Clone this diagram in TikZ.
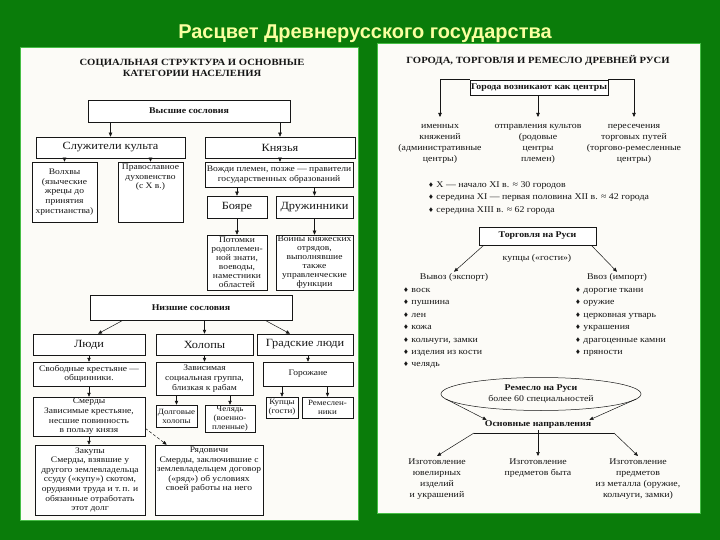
\documentclass[tikz,border=0pt]{standalone}
\usepackage{fontspec}
\setmainfont[FakeStretch=1.12]{Liberation Serif}
\newfontfamily\titlefont{Liberation Sans}
\newfontfamily\symfont{DejaVu Sans}
\usetikzlibrary{arrows.meta,shapes.geometric,calc}
\definecolor{bggreen}{RGB}{10,124,10}
\definecolor{ttl}{RGB}{250,255,160}
\definecolor{ink}{RGB}{22,22,22}
\definecolor{paper}{RGB}{252,251,247}
\definecolor{edge}{RGB}{70,190,70}
\newcommand{\dia}{{\symfont\fontsize{6.5}{6.5}\selectfont ♦}\ }
\newcommand{\fs}{\fontsize{8.5}{9.6}\selectfont}
\newcommand{\fss}{\fontsize{8.5}{9}\selectfont}
\newcommand{\fsm}{\fontsize{8}{9}\selectfont}
\newcommand{\fr}{\fontsize{8.8}{11}\selectfont}
\newcommand{\fb}{\fontsize{11}{12}\selectfont}
\newcommand{\fh}{\bfseries\fontsize{8.8}{10}\selectfont}
\newcommand{\fT}{\bfseries\fontsize{9.5}{11.5}\selectfont}
\tikzset{
  bx/.style={draw=ink, line width=0.5pt, fill=white, align=center, inner sep=1pt, text=ink, font=\fs},
  txt/.style={inner sep=1pt, align=center, text=ink, font=\fr},
  li/.style={inner sep=0pt, anchor=base west, text=ink, font=\fr},
  arr/.style={draw=ink, line width=0.5pt, -{Triangle[length=4pt,width=3.4pt]}},
  ln/.style={draw=ink, line width=0.5pt},
  panel/.style={fill=paper, draw=edge, line width=0.8pt}
}
\begin{document}
\begin{tikzpicture}[x=1pt,y=-1pt]
\useasboundingbox (0,0) rectangle (720,540);
\fill[bggreen] (0,0) rectangle (720,540);
\node[font=\titlefont\bfseries\fontsize{20}{23}\selectfont, text=ttl] (title) at (365,34) {Расцвет Древнерусского государства};
\path[panel] (20,47) rectangle (358,520);
\path[panel] (377,43) rectangle (700,513);

% ---------------- left panel ----------------
\node[font=\fT, align=center, text=ink] (ltitle) at (192,68) {СОЦИАЛЬНАЯ СТРУКТУРА И ОСНОВНЫЕ\\КАТЕГОРИИ НАСЕЛЕНИЯ};
\node[bx,minimum width=202pt,minimum height=22pt,font=\fh] (vys) at (189,111) {Высшие сословия};
\node[bx,minimum width=149pt,minimum height=21pt,font=\fb] (sluz) at (110.5,147.5) {Служители культа};
\node[bx,minimum width=150pt,minimum height=21pt,font=\fb] (knyaz) at (280,147.5) {Князья};
\node[bx,minimum width=65pt,minimum height=60pt] (volkh) at (64.5,192) {Волхвы\\(языческие\\жрецы до\\принятия\\христианства)};
\node[bx,minimum width=65pt,minimum height=60pt] (prav) at (150.5,192) {\parbox[c][56pt][t]{62pt}{\centering Православное\\духовенство\\(с X в.)}};
\node[bx,minimum width=148pt,minimum height=25pt] (vozhdi) at (279,174.5) {Вожди племен, позже — правители\\государственных образований};
\node[bx,minimum width=60pt,minimum height=22pt,font=\fb] (boyare) at (237,207) {Бояре};
\node[bx,minimum width=77pt,minimum height=22pt,font=\fb] (druzh) at (314.5,207) {Дружинники};
\node[bx,minimum width=60pt,minimum height=55pt,font=\fss] (potomki) at (237,262.5) {Потомки\\родоплемен-\\ной знати,\\воеводы,\\наместники\\областей};
\node[bx,minimum width=77pt,minimum height=55pt,font=\fss] (voiny) at (314.5,262.5) {Воины княжеских\\отрядов,\\выполнявшие\\также\\управленческие\\функции};
\node[bx,minimum width=202pt,minimum height=25pt,font=\fh] (nizh) at (191,307.5) {Низшие сословия};
\node[bx,minimum width=112pt,minimum height=21pt,font=\fb] (lyudi) at (89,344.5) {Люди};
\node[bx,minimum width=97pt,minimum height=21pt,font=\fb] (khol) at (204.5,344.5) {Холопы};
\node[bx,minimum width=96pt,minimum height=21pt,font=\fb] (grad) at (305,344.5) {Градские люди};
\node[bx,minimum width=112pt,minimum height=24pt] (svob) at (89,374) {Свободные крестьяне —\\общинники.};
\node[bx,minimum width=97pt,minimum height=33pt] (zavis) at (204.5,378.5) {Зависимая\\социальная группа,\\близкая к рабам};
\node[bx,minimum width=90pt,minimum height=24pt] (gorozh) at (308,374) {Горожане};
\node[bx,minimum width=112pt,minimum height=39pt] (smerdy) at (89,416.5) {Смерды\\Зависимые крестьяне,\\несшие повинность\\в пользу князя};
\node[bx,minimum width=41pt,minimum height=22pt,font=\fsm] (dolg) at (176.5,416) {Долговые\\холопы};
\node[bx,minimum width=50pt,minimum height=27pt,font=\fsm] (chel) at (230,418.5) {Челядь\\(военно-\\пленные)};
\node[bx,minimum width=32pt,minimum height=21pt,font=\fsm] (kup) at (282,407.5) {Купцы\\(гости)};
\node[bx,minimum width=51pt,minimum height=21pt,font=\fsm] (rem) at (327.5,407.5) {Ремеслен-\\ники};
\node[bx,minimum width=110pt,minimum height=70pt] (zakupy) at (90,480) {Закупы\\Смерды, взявшие у\\другого землевладельца\\ссуду («купу») скотом,\\орудиями труда и т.\,п. и\\обязанные отработать\\этот долг};
\node[bx,minimum width=108pt,minimum height=70pt] (ryad) at (209,480) {\parbox[c][66pt][t]{106pt}{\centering Рядовичи\\Смерды, заключившие с\\землевладельцем договор\\(«ряд») об условиях\\своей работы на него}};

\draw[arr] (vys.south -| sluz.north) -- (sluz.north);
\draw[arr] (vys.south -| knyaz.north) -- (knyaz.north);
\draw[arr] (sluz.south -| volkh.north) -- (volkh.north);
\draw[arr] (sluz.south -| prav.north) -- (prav.north);
\draw[arr] (knyaz.south) -- (knyaz.south |- vozhdi.north);
\draw[arr] (vozhdi.south -| boyare.north) -- (boyare.north);
\draw[arr] (vozhdi.south -| druzh.north) -- (druzh.north);
\draw[arr] (boyare.south) -- (potomki.north);
\draw[arr] (druzh.south) -- (voiny.north);
\draw[arr] ([xshift=-68pt]nizh.south) -- ([xshift=9pt]lyudi.north);
\draw[arr] (nizh.south -| khol.north) -- (khol.north);
\draw[arr] ([xshift=74pt]nizh.south) -- ([xshift=-15pt]grad.north);
\draw[arr] (lyudi.south) -- (svob.north);
\draw[arr] (svob.south) -- (smerdy.north);
\draw[arr] (smerdy.south) -- (smerdy.south |- zakupy.north);
\draw[arr, densely dashed] ([yshift=8pt]smerdy.south east) -- ([xshift=12pt]ryad.north west);
\draw[arr] (khol.south) -- (zavis.north);
\draw[arr] (zavis.south -| dolg.north) -- (dolg.north);
\draw[arr] (zavis.south -| chel.north) -- (chel.north);
\draw[arr] (grad.south -| gorozh.north) -- (gorozh.north);
\draw[arr] (gorozh.south -| kup.north) -- (kup.north);
\draw[arr] (gorozh.south -| rem.north) -- (rem.north);

% ---------------- right panel ----------------
\node[font=\fT, text=ink] (rtitle) at (538,60) {ГОРОДА, ТОРГОВЛЯ И РЕМЕСЛО ДРЕВНЕЙ РУСИ};
\node[bx,minimum width=130pt,minimum height=15pt,font=\fh] (gorbox) at (539,87.5) {Города возникают как центры};
\node[txt,anchor=north,inner ysep=7pt] (c1) at (440,117) {именных\\княжений\\(административные\\центры)};
\node[txt,anchor=north,inner ysep=7pt] (c2) at (538,117) {отправления культов\\(родовые\\центры\\племен)};
\node[txt,anchor=north,inner ysep=7pt] (c3) at (634,117) {пересечения\\торговых путей\\(торгово-ремесленные\\центры)};
\draw[arr] (gorbox.north west) -- (gorbox.north west -| c1.north) -- (c1.north);
\draw[arr] (gorbox.north east) -- (gorbox.north east -| c3.north) -- (c3.north);
\draw[arr] (gorbox.south -| c2.north) -- (c2.north);

\node[li] (b1) at (428,188) {\dia X — начало XI в. ≈ 30 городов};
\node[li] (b2) at (428,200) {\dia середина XI — первая половина XII в. ≈ 42 города};
\node[li] (b3) at (428,212) {\dia середина XIII в. ≈ 62 города};

\node[bx,minimum width=117pt,minimum height=18pt,font=\fh] (tor) at (537.5,236) {Торговля на Руси};
\node[txt] (kupcy) at (537,258) {купцы («гости»)};
\node[txt] (exp) at (454,277) {Вывоз (экспорт)};
\node[txt] (imp) at (617,277) {Ввоз (импорт)};
\draw[arr] ([xshift=5pt]tor.south west) -- (exp.north);
\draw[arr] ([xshift=-5pt]tor.south east) -- (imp.north);

\foreach \t [count=\i from 0] in {воск, пушнина, лен, кожа, {кольчуги, замки}, {изделия из кости}, челядь}
  \node[li] (ex\i) at (403,{292.5+12.4*\i}) {\dia \t};
\foreach \t [count=\i from 0] in {{дорогие ткани}, оружие, {церковная утварь}, украшения, {драгоценные камни}, пряности}
  \node[li] (im\i) at (575,{292.5+12.4*\i}) {\dia \t};

\node[draw=ink, line width=0.5pt, ellipse, minimum width=200pt, minimum height=33pt, inner sep=0pt, align=center, text=ink, font=\fr] (ell) at (541,394) {\textbf{Ремесло на Руси}\\более 60 специальностей};
\node[txt,font=\fh] (osn) at (538,425) {Основные направления};
\draw[arr] ([shift={(5pt,-5pt)}]ell.west) -- ([xshift=3pt]osn.north west);
\draw[arr] ([shift={(-5pt,-5pt)}]ell.east) -- ([xshift=-3pt]osn.north east);

\node[txt,anchor=north,inner ysep=3pt] (i1) at (437,456) {Изготовление\\ювелирных\\изделий\\и украшений};
\node[txt,anchor=north,inner ysep=3pt] (i2) at (538,456) {Изготовление\\предметов быта};
\node[txt,anchor=north,inner ysep=3pt] (i3) at (638,456) {Изготовление\\предметов\\из металла (оружие,\\кольчуги, замки)};
\coordinate (bl) at (474,433);
\coordinate (br) at (614,433);
\draw[ln] (bl) -- (br);
\draw[arr] (bl) -- (i1.north);
\draw[arr] (osn.south) -- (osn.south |- i2.north);
\draw[arr] (br) -- (i3.north);
\end{tikzpicture}
\end{document}
